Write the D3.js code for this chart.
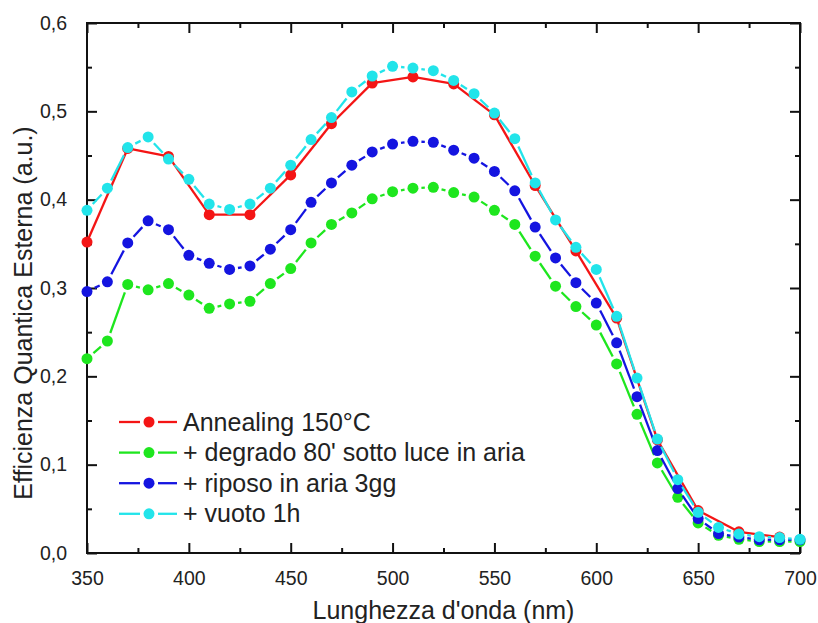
<!DOCTYPE html>
<html lang="en">
<head>
  <meta charset="UTF-8">
  <title>Efficienza Quantica Esterna</title>
  <script src="https://d3js.org/d3.v7.min.js"></script>
  <style>
    body { margin: 0; background: #fff; }
    text { font-family: "Liberation Sans", Arial, sans-serif; fill: #222; }
    .axis path, .axis line { stroke: #111; stroke-width: 2; }
  </style>
</head>
<body>
  <svg width="818" height="623"></svg>

  <script>
    // wavelengths (nm), every 10 nm
    const wl = [350, 360, 370, 380, 390, 400, 410, 420, 430, 440, 450, 460, 470, 480, 490, 500, 510, 520,
                530, 540, 550, 560, 570, 580, 590, 600, 610, 620, 630, 640, 650, 660, 670, 680, 690, 700];
    // the annealing series was measured every 20 nm
    const wlAnneal = [350, 370, 390, 410, 430, 450, 470, 490, 510, 530, 550, 570, 590, 610, 630, 650, 670, 690];

    const annealing = [0.352, 0.458, 0.449, 0.383, 0.383, 0.428, 0.486, 0.532, 0.539, 0.531, 0.496, 0.416,
                       0.342, 0.266, 0.128, 0.048, 0.024, 0.018];
    const degrado = [0.220, 0.240, 0.304, 0.298, 0.305, 0.292, 0.277, 0.282, 0.285, 0.305, 0.322, 0.351,
                     0.372, 0.385, 0.401, 0.409, 0.413, 0.414, 0.408, 0.403, 0.388, 0.372, 0.336, 0.302,
                     0.279, 0.258, 0.214, 0.157, 0.102, 0.063, 0.034, 0.020, 0.0155, 0.013, 0.013, 0.013];
    const riposo = [0.296, 0.307, 0.351, 0.376, 0.366, 0.337, 0.328, 0.321, 0.325, 0.344, 0.366, 0.397,
                    0.419, 0.439, 0.454, 0.463, 0.466, 0.465, 0.456, 0.447, 0.432, 0.410, 0.369, 0.334,
                    0.306, 0.283, 0.238, 0.177, 0.116, 0.073, 0.039, 0.022, 0.018, 0.015, 0.015, 0.015];
    const vuoto = [0.388, 0.413, 0.459, 0.471, 0.446, 0.423, 0.395, 0.389, 0.395, 0.413, 0.439, 0.468,
                   0.493, 0.522, 0.540, 0.551, 0.549, 0.546, 0.535, 0.520, 0.498, 0.469, 0.419, 0.377,
                   0.346, 0.321, 0.268, 0.198, 0.129, 0.083, 0.046, 0.029, 0.0215, 0.0185, 0.0175, 0.0155];

    const seriesNames = ["Annealing 150°C", "+ degrado 80' sotto luce in aria", "+ riposo in aria 3gg", "+ vuoto 1h"];
    const seriesColors = ["#f41515", "#1ee61e", "#1414e0", "#22e4ea"];

    const xTicks = [350, 400, 450, 500, 550, 600, 650, 700];
    const xMinor = [375, 425, 475, 525, 575, 625, 675];
    const yTicks = [0, 0.1, 0.2, 0.3, 0.4, 0.5, 0.6];
    const yTickLabels = ["0,0", "0,1", "0,2", "0,3", "0,4", "0,5", "0,6"];
    const yMinor = [0.05, 0.15, 0.25, 0.35, 0.45, 0.55];

    const margin = {top: 23, right: 18, bottom: 70, left: 87},
          width = 818 - margin.left - margin.right,
          height = 623 - margin.top - margin.bottom;

    const svg = d3.select("svg")
      .append("g")
      .attr("transform", `translate(${margin.left},${margin.top})`);

    const x = d3.scaleLinear().domain([350, 700]).range([0, width]);
    const y = d3.scaleLinear().domain([0, 0.6]).range([height, 0]);

    // Axes, ticks pointing inward on all four sides
    const fmtY = d => yTickLabels[yTicks.indexOf(d)];
    function axes(sel, axis, minorAxis) {
      sel.call(axis);
      sel.append("g").call(minorAxis).selectAll("text").remove();
      sel.selectAll(".domain").remove();
    }

    const gB = svg.append("g").attr("class", "axis").attr("transform", `translate(0,${height})`);
    axes(gB, d3.axisBottom(x).tickValues(xTicks).tickSize(-10).tickPadding(18).tickFormat(d3.format("d")),
         d3.axisBottom(x).tickValues(xMinor).tickSize(-5));
    const gT = svg.append("g").attr("class", "axis");
    axes(gT, d3.axisTop(x).tickValues(xTicks).tickSize(-10).tickFormat(""),
         d3.axisTop(x).tickValues(xMinor).tickSize(-5));
    const gL = svg.append("g").attr("class", "axis");
    axes(gL, d3.axisLeft(y).tickValues(yTicks).tickSize(-10).tickPadding(20).tickFormat(fmtY),
         d3.axisLeft(y).tickValues(yMinor).tickSize(-5));
    const gR = svg.append("g").attr("class", "axis").attr("transform", `translate(${width},0)`);
    axes(gR, d3.axisRight(y).tickValues(yTicks).tickSize(-10).tickFormat(""),
         d3.axisRight(y).tickValues(yMinor).tickSize(-5));

    svg.selectAll(".axis text")
      .style("font-family", '"Liberation Sans", Arial, sans-serif')
      .style("font-size", "19.5px")
      .style("fill", "#222");

    // frame
    svg.append("rect")
      .attr("width", width).attr("height", height)
      .attr("fill", "none").attr("stroke", "#111").attr("stroke-width", 2);

    // Series: segments with a small gap around each symbol (Origin style)
    const r = 5.5;
    const gaps = [0, 3, 3, 3];
    const allSeries = [
      {xs: wlAnneal, ys: annealing},
      {xs: wl, ys: degrado},
      {xs: wl, ys: riposo},
      {xs: wl, ys: vuoto}
    ];

    allSeries.forEach((s, i) => {
      const pts = s.xs.map((w, k) => [x(w), y(s.ys[k])]);
      const segs = d3.pairs(pts).map(([a, b]) => {
        const dx = b[0] - a[0], dy = b[1] - a[1];
        const len = Math.hypot(dx, dy);
        const g = gaps[i] ? r + gaps[i] : 0;
        const t = Math.min(g / len, 0.45);
        return [[a[0] + dx * t, a[1] + dy * t], [b[0] - dx * t, b[1] - dy * t]];
      });
      const grp = svg.append("g");
      grp.selectAll("line")
        .data(segs)
        .join("line")
        .attr("x1", d => d[0][0]).attr("y1", d => d[0][1])
        .attr("x2", d => d[1][0]).attr("y2", d => d[1][1])
        .attr("stroke", seriesColors[i])
        .attr("stroke-width", 2.3);
      grp.selectAll("circle")
        .data(pts)
        .join("circle")
        .attr("cx", d => d[0]).attr("cy", d => d[1])
        .attr("r", r)
        .attr("fill", seriesColors[i]);
    });

    // Legend (every entry drawn as dash - symbol - dash)
    const legend = svg.append("g").attr("transform", `translate(${119 - margin.left},${422 - margin.top})`);
    seriesNames.forEach((name, i) => {
      const row = legend.append("g").attr("transform", `translate(0,${i * 30.6})`);
      row.append("line").attr("x1", 0).attr("x2", 21).attr("stroke", seriesColors[i]).attr("stroke-width", 2.3);
      row.append("line").attr("x1", 39).attr("x2", 58).attr("stroke", seriesColors[i]).attr("stroke-width", 2.3);
      row.append("circle").attr("cx", 30).attr("r", r).attr("fill", seriesColors[i]);
      row.append("text").attr("x", 64).attr("y", 8.5)
        .style("font-size", "25px")
        .text(name);
    });

    // Axis titles
    svg.append("text")
      .attr("x", width / 2).attr("y", height + 66)
      .attr("text-anchor", "middle")
      .style("font-size", "25px")
      .text("Lunghezza d'onda (nm)");

    svg.append("text")
      .attr("transform", `translate(${32 - margin.left},${313 - margin.top}) rotate(-90)`)
      .attr("text-anchor", "middle")
      .style("font-size", "25px")
      .text("Efficienza Quantica Esterna (a.u.)");
  </script>
</body>
</html>
